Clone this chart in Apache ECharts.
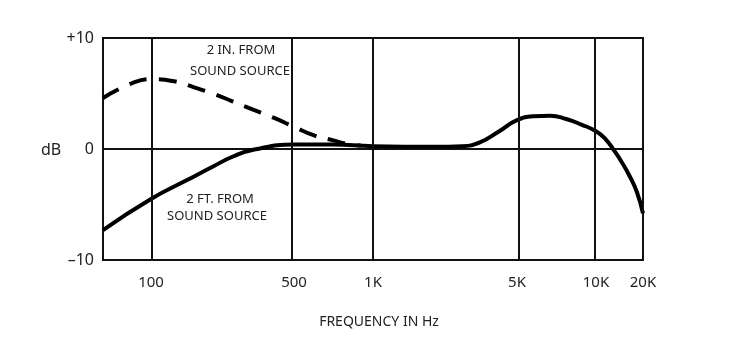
<!doctype html>
<html>
    <head>
        <meta charset="utf-8">
        <title>Frequency response</title>
        <style>
            html, body { margin: 0; padding: 0; background: #fff; }
            #main { width: 750px; height: 348px; }
        </style>
    </head>
    <body>
        <div id="main"></div>
        <script src="https://cdn.jsdelivr.net/npm/echarts@6/dist/echarts.min.js"></script>
        <script>
            // ticks on the frequency axis
            var tickFreqs = [100, 500, 1000, 5000, 10000, 20000];
            var tickLabels = ['100', '500', '1K', '5K', '10K', '20K'];

            // 2 in. from the source (dashed)
            var nearFreq = [58, 80, 100, 130, 160, 200, 250, 300, 400, 500, 600, 700, 800, 900];
            var nearDb = [4.6, 5.9, 6.3, 6.1, 5.6, 5.0, 4.3, 3.7, 2.8, 2.0, 1.2, 0.8, 0.45, 0.3];

            // 2 ft. from the source (solid)
            var farFreq = [58, 100, 150, 200, 250, 320, 500, 700, 1000, 2000, 2700, 3300, 4100, 5000, 5800, 6700, 7700, 8800, 10000, 11500, 13000, 14500, 16500, 18300, 20000];
            var farDb = [-7.3, -4.5, -2.8, -1.6, -0.7, -0.05, 0.4, 0.4, 0.25, 0.2, 0.25, 0.6, 1.6, 2.6, 2.95, 3.0, 2.7, 2.2, 1.6, 0.9, -0.1, -1.1, -2.5, -3.9, -5.8];

            // the printed axis is drawn by hand, not a true log scale:
            // frequency stops and where they sit across the plot (0..1)
            var stopFreqs = [58, 100, 500, 1000, 5000, 10000, 20000];
            var stopPos = [0, 48, 191, 270, 414, 493, 540].map(function (p) { return p / 540; });

            function toPos(f) {
                var lf = Math.log10(f);
                for (var i = 1; i < stopFreqs.length; i++) {
                    var a = Math.log10(stopFreqs[i - 1]), b = Math.log10(stopFreqs[i]);
                    if (lf <= b || i === stopFreqs.length - 1) {
                        return stopPos[i - 1] + (lf - a) / (b - a) * (stopPos[i] - stopPos[i - 1]);
                    }
                }
            }

            var tickPos = tickFreqs.map(toPos);
            var font = '"Noto Sans", "Open Sans", sans-serif';

            var chart = echarts.init(document.getElementById('main'));
            chart.setOption({
                backgroundColor: '#fff',
                animation: false,
                grid: {
                    left: 103,
                    right: 107,
                    top: 38,
                    bottom: 88,
                    show: true,
                    borderColor: '#111',
                    borderWidth: 2
                },
                xAxis: {
                    type: 'value',
                    min: 0,
                    max: 1,
                    axisLine: { show: false },
                    axisTick: { show: false, customValues: tickPos },
                    splitLine: { show: false },
                    axisLabel: {
                        customValues: tickPos,
                        margin: 15,
                        color: '#222',
                        fontSize: 15,
                        fontFamily: font,
                        formatter: function (v) {
                            var best = 0;
                            for (var i = 1; i < tickPos.length; i++) {
                                if (Math.abs(tickPos[i] - v) < Math.abs(tickPos[best] - v)) best = i;
                            }
                            return tickLabels[best];
                        }
                    },
                    name: 'FREQUENCY IN Hz',
                    nameLocation: 'middle',
                    nameGap: 55,
                    nameTextStyle: { color: '#222', fontSize: 14, fontFamily: font, padding: [0, 0, 0, 12] }
                },
                yAxis: {
                    type: 'value',
                    min: -10,
                    max: 10,
                    interval: 10,
                    axisLine: { show: false },
                    axisTick: { show: false },
                    splitLine: { lineStyle: { color: '#111', width: 2 } },
                    axisLabel: {
                        margin: 9,
                        color: '#222',
                        fontSize: 16,
                        fontFamily: font,
                        formatter: function (v) {
                            return v > 0 ? '+' + v : (v < 0 ? '\u2013' + Math.abs(v) : '0');
                        }
                    }
                },
                graphic: [
                    { type: 'text', left: 41, top: 142, style: { text: 'dB', fontSize: 16, fontFamily: font, fill: '#222' } },
                    { type: 'text', x: 241, y: 50, style: { text: '2 IN. FROM', fontSize: 13, fontFamily: font, fill: '#222', textAlign: 'center', textVerticalAlign: 'middle' } },
                    { type: 'text', x: 240, y: 71, style: { text: 'SOUND SOURCE', fontSize: 13, fontFamily: font, fill: '#222', textAlign: 'center', textVerticalAlign: 'middle' } },
                    { type: 'text', x: 220, y: 199, style: { text: '2 FT. FROM', fontSize: 13, fontFamily: font, fill: '#222', textAlign: 'center', textVerticalAlign: 'middle' } },
                    { type: 'text', x: 217, y: 216, style: { text: 'SOUND SOURCE', fontSize: 13, fontFamily: font, fill: '#222', textAlign: 'center', textVerticalAlign: 'middle' } }
                ],
                series: [
                    {
                        name: '2 FT. FROM SOUND SOURCE',
                        type: 'line',
                        smooth: 0.5,
                        symbol: 'none',
                        z: 3,
                        lineStyle: { color: '#000', width: 4 },
                        data: farFreq.map(function (f, i) { return [toPos(f), farDb[i]]; }),
                        markLine: {
                            silent: true,
                            symbol: 'none',
                            label: { show: false },
                            lineStyle: { color: '#111', width: 2, type: 'solid' },
                            data: tickPos.map(function (p) { return { xAxis: p }; })
                        }
                    },
                    {
                        name: '2 IN. FROM SOUND SOURCE',
                        type: 'line',
                        smooth: 0.5,
                        symbol: 'none',
                        z: 3,
                        lineStyle: { color: '#000', width: 4, type: [18, 12] },
                        data: nearFreq.map(function (f, i) { return [toPos(f), nearDb[i]]; })
                    }
                ]
            });

            window.onresize = chart.resize;
        </script>
    </body>
</html>
